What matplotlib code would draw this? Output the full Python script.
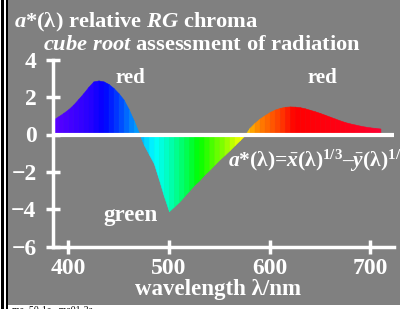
import numpy as np
import matplotlib
matplotlib.use("Agg")
import matplotlib.pyplot as plt
from matplotlib.colors import LinearSegmentedColormap
from matplotlib.patches import Rectangle

# a*(lambda), 5 nm steps
wavelength = list(range(385, 715, 5))
a_star = [0.80, 0.97, 1.15, 1.35, 1.60, 1.90, 2.21, 2.55, 2.84, 2.89,
          2.84, 2.70, 2.48, 2.20, 1.86, 1.35, 0.75, 0.10, -0.55, -1.05,
          -1.55, -2.40, -3.30, -4.10, -3.85, -3.60, -3.30, -3.00, -2.70, -2.45,
          -2.15, -1.90, -1.62, -1.35, -1.10, -0.85, -0.58, -0.32, -0.05, 0.35,
          0.62, 0.85, 1.03, 1.20, 1.33, 1.42, 1.48, 1.50, 1.49, 1.46,
          1.40, 1.32, 1.24, 1.15, 1.05, 0.95, 0.85, 0.75, 0.66, 0.59,
          0.53, 0.47, 0.42, 0.38, 0.35, 0.32]

# spectral colours of the stripes
color_nm = [385, 420, 435, 450, 465, 475, 485, 500, 515, 530, 550, 565,
            572, 580, 590, 600, 612, 625, 680, 710]
color_hex = ['#5a00ff', '#2800ff', '#0000ff', '#0040ff', '#0090ff', '#00d0ff',
             '#00ffff', '#00ffb8', '#00ff60', '#00ff00', '#70ff00', '#d0ff00',
             '#ffff00', '#ffb000', '#ff8000', '#ff6000', '#ff3800', '#ff0000',
             '#ff0018', '#ff0030']

xticks = [400, 500, 600, 700]
yticks = [-6, -4, -2, 0, 2, 4]

plt.rcParams['mathtext.fontset'] = 'custom'
plt.rcParams['mathtext.rm'] = 'Liberation Serif:bold'
plt.rcParams['mathtext.it'] = 'Liberation Serif:italic:bold'
plt.rcParams['mathtext.bf'] = 'Liberation Serif:bold'
plt.rcParams['font.family'] = 'Liberation Serif'
plt.rcParams['font.weight'] = 'bold'

W, H = 400, 309
gray = '#808080'
fig = plt.figure(figsize=(W / 100, H / 100), dpi=100, facecolor=gray)

# frame bits: white strip at bottom and double black line at left
fig.patches.append(Rectangle((0, 0), 1, 4 / H, transform=fig.transFigure,
                             facecolor='white', edgecolor='none', zorder=0))
for x0, w, c in [(0, 1, 'white'), (1, 3, 'black'), (4, 2, 'white'), (6, 2, 'black')]:
    fig.patches.append(Rectangle((x0 / W, 0), w / W, 1, transform=fig.transFigure,
                                 facecolor=c, edgecolor='none', zorder=0))

ax = fig.add_axes([53.2 / W, 62.3 / H, 340.3 / W, 187.0 / H])
ax.set_facecolor('none')
ax.set_xlim(385, 723)
ax.set_ylim(-6, 4)

cmap = LinearSegmentedColormap.from_list(
    'spec', [((n - color_nm[0]) / (color_nm[-1] - color_nm[0]), c)
             for n, c in zip(color_nm, color_hex)])

for i in range(len(wavelength) - 1):
    mid = (wavelength[i] + wavelength[i + 1]) / 2
    col = cmap((mid - color_nm[0]) / (color_nm[-1] - color_nm[0]))
    ax.fill_between(wavelength[i:i + 2], 0, a_star[i:i + 2],
                    facecolor=col, edgecolor=col, lw=0.4, zorder=2)

ax.axhline(0, color='white', lw=3, zorder=3)

for s in ['top', 'right']:
    ax.spines[s].set_visible(False)
for s in ['left', 'bottom']:
    ax.spines[s].set_color('white')
    ax.spines[s].set_linewidth(2.5)

ax.set_xticks(xticks)
ax.set_yticks(yticks)
ax.set_yticklabels(['\u2212' + str(-v) if v < 0 else str(v) for v in yticks])
ax.tick_params(axis='both', direction='inout', length=10, width=2.5,
               color='white', labelcolor='white', labelsize=17)
ax.tick_params(axis='y', pad=7)
ax.tick_params(axis='x', pad=3)


def px(x, y):
    return x / W, 1 - y / H


tk = dict(color='white', ha='center', va='center')
fig.text(*px(130, 78), 'red', fontsize=15, **tk)
fig.text(*px(322, 78), 'red', fontsize=15, **tk)
fig.text(*px(131, 216), 'green', fontsize=16.5, **tk)
fig.text(*px(218, 290), 'wavelength λ/nm', fontsize=16.5, **tk)

fig.text(*px(14, 27), r'$a$*(λ) relative $RG$ chroma', color='white',
         fontsize=16.2, ha='left', va='baseline')
fig.text(*px(43, 50), r'$cube$ $root$ assessment of radiation', color='white',
         fontsize=16.2, ha='left', va='baseline')
fig.text(*px(228, 167), r'$a$*(λ)=$\bar{x}$(λ)$^{1/3}$–$\bar{y}$(λ)$^{1/3}$',
         color='white', fontsize=15.5, ha='left', va='baseline')

fig.text(*px(12, 305.5), 'me  50-1a,  me01-3a', color='black', fontsize=7,
         ha='left', va='top', fontweight='normal')

fig.savefig('out.png', dpi=100, facecolor=gray)
